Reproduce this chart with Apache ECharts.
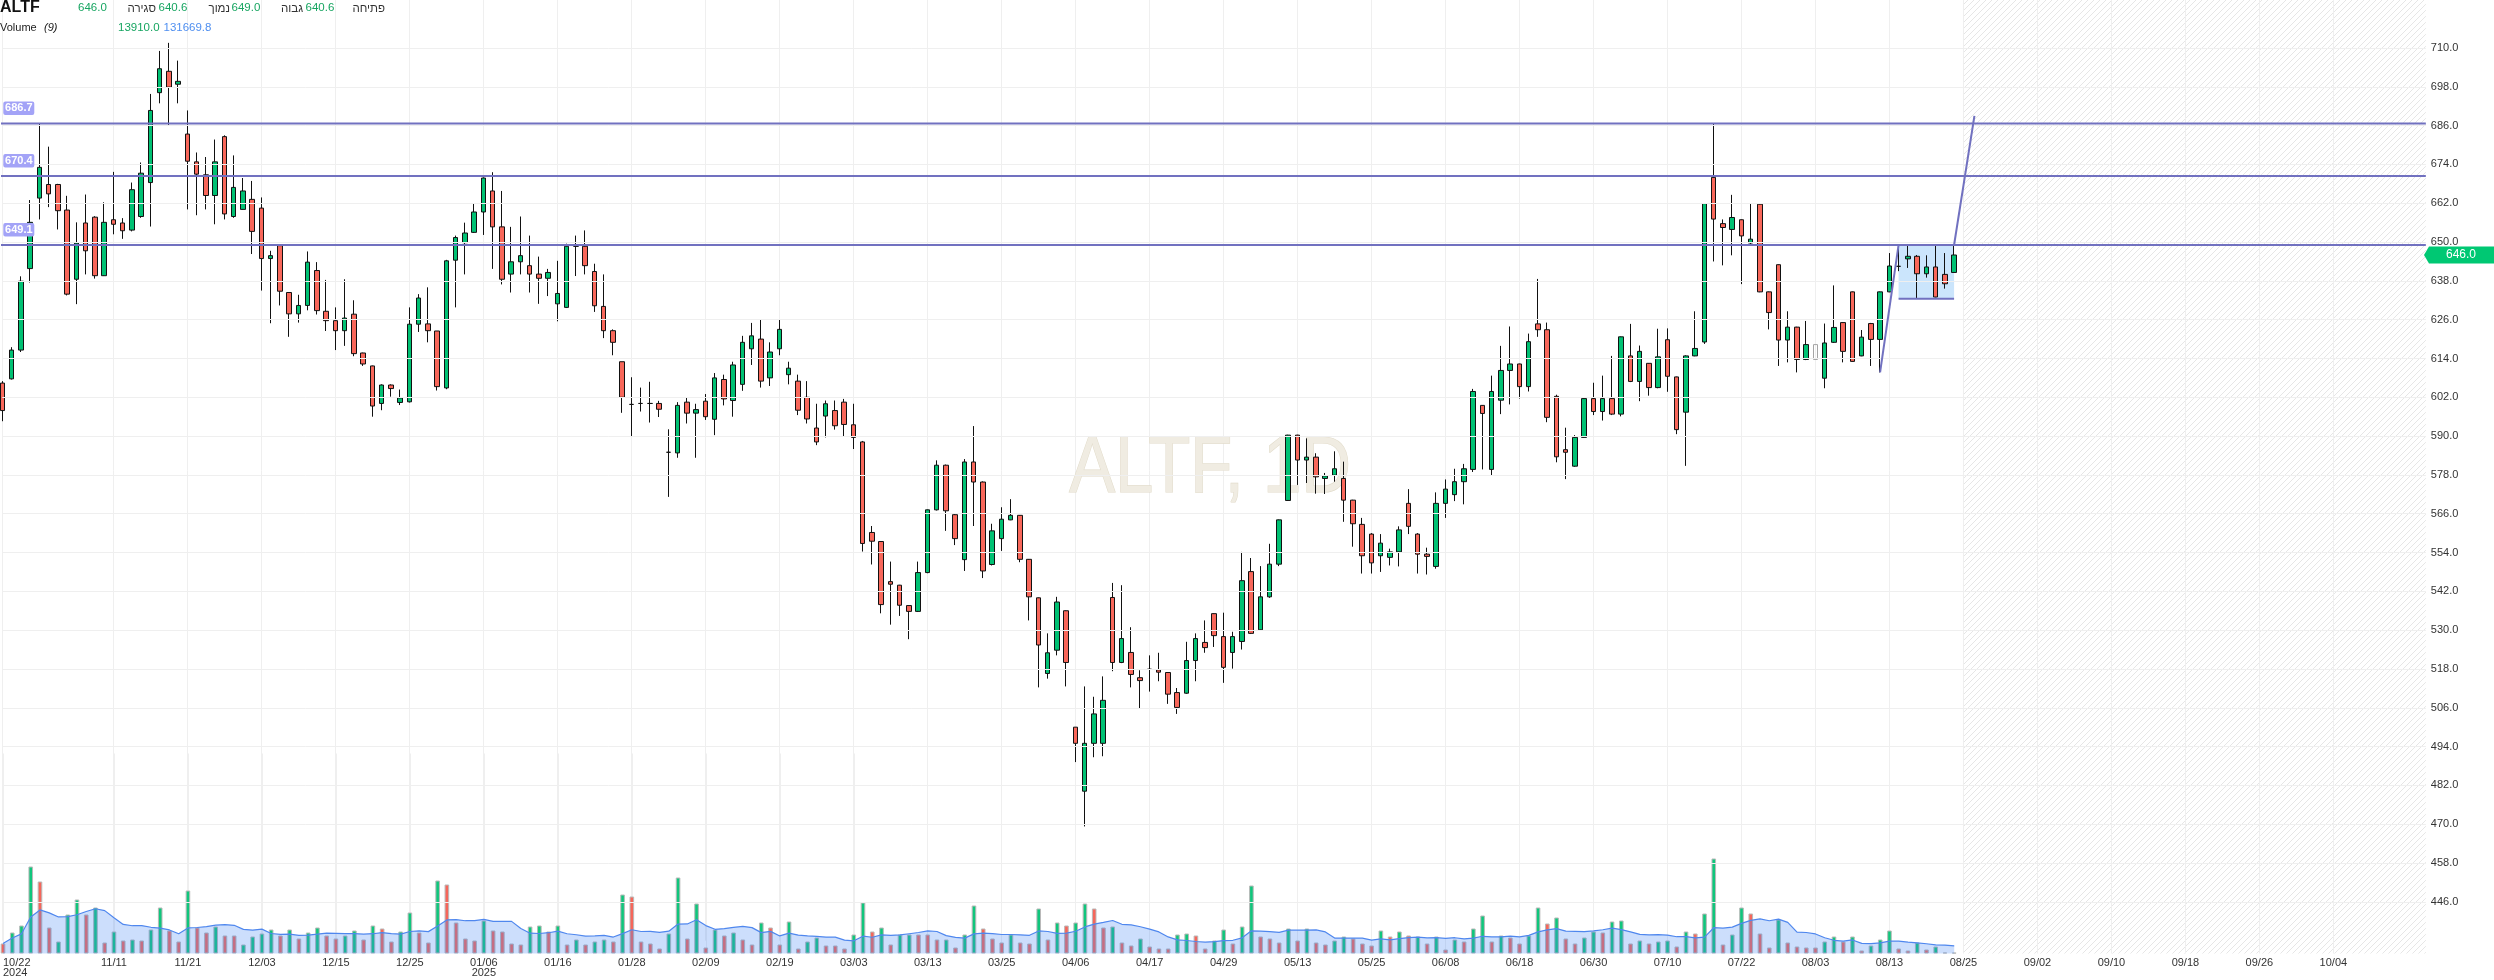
<!DOCTYPE html>
<html><head><meta charset="utf-8">
<script src="https://cdn.jsdelivr.net/npm/echarts@6/dist/echarts.min.js"></script>
<style>html,body{margin:0;padding:0;background:#fff;overflow:hidden}#c{width:2494px;height:980px}</style>
</head><body><div id="c"></div>
<script>
// ---------- DATA ----------
// one row per trading day: [open, high, low, close]
const OHLC = [
[606.4,607.0,594.6,597.9],[607.7,617.5,607.5,616.6],[616.6,639.4,616.0,637.9],[641.8,663.0,637.5,656.1],[663.6,686.7,657.0,673.1],
[667.8,679.5,660.8,664.9],[667.8,668.0,653.9,659.7],[659.9,664.3,633.5,633.9],[638.5,656.1,630.8,649.7],[655.9,664.7,640.0,647.3],
[657.7,658.0,638.7,639.6],[639.6,662.3,639.5,656.1],[656.9,671.7,652.4,655.5],[655.9,657.4,651.0,653.5],[653.7,668.4,653.3,666.2],
[657.9,674.6,657.5,671.3],[668.4,695.8,654.8,690.7],[696.2,709.1,692.9,703.6],[702.8,711.6,686.0,697.9],[698.8,706.1,692.9,699.7],
[683.4,690.7,660.1,675.0],[674.8,677.7,658.3,671.0],[670.8,676.3,660.1,664.4],[664.4,681.7,655.5,674.8],[682.6,683.0,657.0,658.7],
[657.9,676.8,657.5,666.9],[660.1,669.8,660.0,665.8],[663.2,668.9,646.3,653.3],[660.5,663.8,635.0,644.9],[644.9,647.3,624.9,645.8],
[648.9,649.0,630.4,634.8],[634.4,634.5,620.7,627.8],[627.8,633.7,625.1,630.4],[630.4,647.1,628.9,643.8],[641.2,643.8,627.6,628.8],
[628.6,638.3,622.5,625.7],[625.7,629.8,616.6,622.6],[622.6,638.5,617.9,626.5],[627.7,632.0,614.7,615.5],[615.7,615.8,611.7,612.3],
[611.7,611.8,596.0,599.3],[600.1,606.0,598.0,605.8],[605.8,606.0,602.2,604.7],[600.4,604.4,599.6,601.8],[600.6,629.8,600.4,624.6],
[624.6,633.9,622.2,632.7],[624.7,636.0,619.0,622.6],[622.5,622.5,604.1,605.3],[604.9,644.5,604.5,644.2],[644.4,652.0,629.8,651.4],
[649.8,656.0,640.0,652.8],[653.0,661.9,652.8,659.3],[659.3,670.0,652.2,669.8],[665.8,671.6,641.7,654.7],[654.7,665.8,636.9,638.5],
[640.1,654.7,634.4,643.9],[643.9,657.9,640.0,645.8],[642.7,652.0,634.4,640.1],[640.1,645.5,630.9,638.8],[638.8,641.7,633.3,640.6],
[630.9,644.2,625.5,634.1],[629.8,649.5,629.6,648.7],[648.7,652.0,639.5,648.7],[648.7,653.6,640.0,642.7],[640.9,643.3,628.4,630.3],
[630.1,640.0,620.3,622.6],[622.6,623.0,615.0,619.0],[613.0,613.0,597.2,602.0],[599.8,608.2,589.9,599.8],[600.1,605.0,597.6,600.1],
[600.1,606.8,594.2,600.1],[600.1,600.9,595.9,598.3],[585.0,592.1,571.2,585.0],[584.8,600.5,583.3,599.5],[600.5,602.0,593.9,597.1],
[597.1,600.0,583.3,598.2],[600.8,603.0,595.0,596.0],[595.2,609.5,590.3,608.0],[607.5,609.0,599.5,601.5],[601.0,613.0,596.0,612.0],
[606.0,621.0,604.0,619.0],[617.0,625.0,612.0,621.0],[620.0,626.0,605.0,607.0],[608.0,619.0,605.5,616.0],[617.0,626.0,615.0,623.0],
[609.0,613.0,606.0,611.0],[607.0,609.0,596.5,598.0],[602.0,607.0,593.9,595.3],[592.5,600.0,587.2,588.2],[596.2,601.0,589.6,600.0],
[597.9,601.0,592.0,593.2],[600.5,601.5,589.9,593.6],[593.5,600.0,586.0,589.6],[588.2,588.5,554.3,556.8],[560.2,562.2,550.3,557.5],
[557.4,557.5,535.2,537.9],[545.0,551.2,531.7,544.2],[543.9,544.0,534.4,537.7],[537.6,537.7,527.2,535.8],[535.8,551.2,535.6,547.8],
[547.8,567.3,547.6,567.2],[567.2,582.5,567.0,581.0],[581.0,581.2,560.7,566.9],[565.7,566.0,556.3,558.3],[551.8,582.9,548.3,582.0],
[582.0,593.1,562.2,575.8],[575.8,576.0,546.1,548.3],[550.3,562.9,550.0,560.7],[558.3,568.0,554.5,564.3],[564.1,570.5,564.0,565.5],
[565.5,565.6,551.0,551.9],[551.9,552.0,533.0,540.3],[540.0,540.1,512.3,525.4],[516.6,529.0,515.0,523.0],[523.8,540.3,522.2,538.7],
[536.0,536.1,512.6,520.0],[500.0,500.0,489.2,495.0],[480.2,512.6,469.3,495.0],[495.0,509.4,490.7,504.1],[495.0,515.7,491.0,508.3],
[540.1,544.6,517.3,520.0],[520.0,543.9,519.8,527.4],[523.1,530.9,512.3,516.3],[515.3,517.6,505.9,514.4],[517.9,522.2,511.0,517.9],
[517.7,523.0,514.2,517.0],[516.9,517.0,507.2,510.2],[510.7,512.1,504.1,506.1],[510.5,526.4,510.3,520.6],[520.6,529.0,514.2,527.4],
[526.2,533.0,523.0,524.6],[535.1,535.2,524.8,528.3],[528.0,535.4,513.7,518.5],[523.1,529.5,518.1,528.0],[526.5,554.2,524.0,545.3],
[548.1,552.3,528.8,529.0],[530.1,549.8,530.0,540.3],[540.3,556.7,540.0,550.4],[550.4,564.2,549.8,564.1],[570.1,590.4,570.0,590.3],
[590.3,590.4,574.9,582.6],[582.6,589.3,575.5,583.5],[583.5,584.7,572.2,577.4],[576.9,578.6,572.1,577.7],[577.9,585.3,575.9,579.9],
[576.9,582.1,563.5,570.2],[570.2,570.3,555.8,562.9],[562.7,564.7,547.5,553.0],[559.7,560.0,547.5,550.8],[553.0,559.7,548.0,556.9],
[552.5,555.2,550.0,554.2],[554.2,562.1,549.7,561.0],[569.2,573.6,559.7,562.1],[559.7,560.0,547.5,553.5],[553.5,555.5,547.2,552.8],
[549.7,572.6,549.0,569.2],[569.2,576.6,564.7,573.6],[571.9,579.9,569.9,575.9],[575.9,581.4,568.9,579.9],[579.7,604.6,578.9,603.8],
[599.5,599.6,579.7,597.0],[579.7,608.7,577.9,603.8],[601.1,617.9,596.8,610.3],[610.3,623.9,599.8,612.3],[612.3,612.4,601.6,605.3],
[605.3,621.7,603.8,619.2],[624.7,638.6,620.7,622.9],[622.9,625.1,594.3,595.8],[602.3,602.8,581.9,583.6],[585.8,592.6,576.7,585.0],
[580.7,590.3,580.5,589.6],[589.6,601.7,589.5,601.6],[601.6,606.5,596.5,597.6],[597.6,608.7,594.8,601.6],[601.6,614.8,596.5,596.8],
[596.8,620.8,596.1,620.7],[614.8,624.7,606.7,606.9],[606.9,618.0,600.8,616.2],[612.5,612.6,602.5,605.0],[605.0,623.2,604.8,614.5],
[619.8,623.3,603.7,608.5],[608.3,608.4,590.6,592.0],[597.4,615.0,580.8,614.8],[614.8,628.6,614.7,617.1],[619.1,662.0,618.5,661.9],
[670.0,686.7,644.0,657.1],[655.7,657.0,642.8,654.5],[653.9,664.6,645.9,657.6],[656.9,657.0,637.0,651.9],[649.7,662.0,649.3,650.9],
[661.7,661.8,634.5,634.6],[634.6,634.7,623.0,628.2],[643.0,643.1,611.7,619.7],[619.7,628.6,612.8,623.7],[623.7,623.8,609.7,613.7],
[613.7,625.6,613.5,618.3],[613.7,618.3,613.7,618.3],[607.9,624.8,604.8,618.8],[619.0,636.6,618.8,623.6],[625.1,625.2,612.8,616.2],
[634.6,634.7,613.0,613.1],[614.8,622.8,614.7,620.6],[624.8,625.0,611.7,619.9],[619.9,634.7,609.7,634.6],[634.6,646.6,634.5,642.6],
[642.5,649.0,641.0,642.5],[644.8,649.0,642.0,645.6],[645.6,646.0,632.5,640.2],[640.2,645.9,639.0,642.3],[642.3,649.0,632.9,633.0],
[640.0,646.6,635.6,637.1],[640.6,649.0,640.6,646.0]
];
const HOLLOW_DAYS = [196];

// volume, thousands of shares
const VOLUME_K = [
170,357,476,1479,1224,442,204,663,918,663,782,187,374,221,238,221,408,782,391,204,1071,442,357,459,306,306,153,289,340,408,306,408,255,357,442,306,255,
306,391,238,476,425,204,374,697,357,187,1241,1173,527,255,221,561,391,374,170,153,459,476,374,476,153,238,153,204,238,204,1003,969,204,170,85,
340,1292,255,850,102,408,306,357,238,153,527,442,153,544,85,204,272,136,136,85,323,867,374,442,153,323,323,323,323,238,238,102,323,816,425,255,
187,323,187,170,765,238,527,476,527,850,765,442,459,187,136,255,119,85,85,323,340,306,85,221,408,170,459,1156,289,255,187,425,221,425,187,153,221,
289,255,170,136,391,289,374,306,289,170,289,68,238,204,425,646,204,306,272,170,306,782,510,612,255,170,272,374,357,544,561,170,221,170,204,221,
119,374,340,680,1615,153,323,782,680,340,102,578,187,119,102,102,204,289,204,289,51,136,238,391,85,51,187,68,119,17,13.91
];
// volume bar colour per day: g = green, r = red
const VOLUME_DIR = (
'rgggrrgggrgrgrgrggrrgrrgrrggggrgrggrr' +
'ggrgrrggrrgrrrrgrrrrggrgrgrggrgrrrr' +
'ggrgrgrgrrgrrgrggrrrggrgrggrrrgrggrr' +
'rgrrgrgrggrrgrrgrrrggrrggrggrrrgrgrrg' +
'grrrgrgrgrgrgrggrgrrggrgrrggrggrgrgg' +
'rgrggrggrrrgrrrrggrgrgggrrgrgrg').split('');

const FIRST_LABEL = '10/22\n2024';
const TICK_LABELS = ['11/11','11/21','12/03','12/15','12/25','01/06\n2025','01/16','01/28','02/09','02/19','03/03','03/13','03/25',
  '04/06','04/17','04/29','05/13','05/25','06/08','06/18','06/30','07/10','07/22','08/03','08/13','08/25','09/02','09/10','09/18','09/26','10/04'];
const TICK_FIRST_INDEX = 12, TICK_EVERY = 8, SLOT_COUNT = 263;
const Y_TICKS = [446,458,470,482,494,506,518,530,542,554,566,578,590,602,614,626,638,650,662,674,686,698,710];
const LEVELS = [686.7, 670.4, 649.1];
const TREND_IN = [[203, 609.7], [205, 649.1]];
const TREND_OUT = [[211, 649.1], [213.2, 689.0]];
const BOX_X = [205, 211], BOX_Y = [632.5, 649.1];
const FUTURE_FROM = 212;
const LAST_CLOSE = 646.0;

// ---------- BUILD ----------
const CATS = Array.from({length: SLOT_COUNT}, () => '');
CATS[0] = FIRST_LABEL;
TICK_LABELS.forEach((t, k) => { CATS[TICK_FIRST_INDEX + k * TICK_EVERY] = t; });

const UP = '#00c173', DOWN = '#f8675a';
const VUP = '#10c67c', VDOWN = '#f6665a';
const LINE_C = '#7171c0';
const FONT = '"Liberation Sans", Arial, sans-serif';

const candleData = OHLC.map((r, i) => {
  const v = [r[0], r[3], r[2], r[1]];
  if (HOLLOW_DAYS.includes(i)) {
    return {value: v, itemStyle: {color: 'rgba(0,0,0,0)', color0: 'rgba(0,0,0,0)', borderColor: '#a5a5a5', borderColor0: '#a5a5a5'}};
  }
  return v;
});
const volData = VOLUME_K.map((v, i) => ({value: v, itemStyle: {color: VOLUME_DIR[i] === 'g' ? VUP : VDOWN}}));
const volMA = VOLUME_K.map((v, i) => {
  const s = VOLUME_K.slice(Math.max(0, i - 8), i + 1);
  return s.reduce((a, b) => a + b, 0) / s.length;
});

const GL = 2.33, GW = 9.25 * (SLOT_COUNT - 1);
const isTick = (idx, val) => val !== '';

const chart = echarts.init(document.getElementById('c'), null, {renderer: 'canvas'});
const option = {
  animation: false,
  backgroundColor: '#fff',
  textStyle: {fontFamily: FONT},
  grid: [
    {left: GL, width: GW, top: 0, height: 940.6},
    {left: GL, width: GW, top: 753.5, height: 200}
  ],
  xAxis: [
    {type: 'category', gridIndex: 0, data: CATS, boundaryGap: false,
      axisLine: {show: false}, axisTick: {show: false}, axisLabel: {show: false},
      splitLine: {show: true, interval: isTick, lineStyle: {color: '#efefef', width: 1}}},
    {type: 'value', gridIndex: 0, min: 0, max: SLOT_COUNT - 1, show: false},
    {type: 'category', gridIndex: 1, data: CATS, boundaryGap: false,
      axisLine: {show: false}, axisTick: {show: false},
      axisLabel: {interval: isTick, color: '#333', fontSize: 11, lineHeight: 10, margin: 4, alignMinLabel: 'left', fontFamily: FONT},
      splitLine: {show: true, interval: isTick, lineStyle: {color: '#efefef', width: 1}}}
  ],
  yAxis: [
    {type: 'value', gridIndex: 0, position: 'right', min: 434, max: 724.85, interval: 12,
      axisLine: {show: false}, axisTick: {show: false}, splitLine: {show: false},
      axisLabel: {margin: 5, color: '#333', fontSize: 11, fontFamily: FONT,
        formatter: v => Y_TICKS.some(t => Math.abs(t - v) < 1e-6) ? v.toFixed(1) : ''}},
    {type: 'value', gridIndex: 1, min: 0, max: 3400, show: false}
  ],
  series: [
    {type: 'line', xAxisIndex: 1, yAxisIndex: 0, data: [[0, Y_TICKS[0]]], symbol: 'none', silent: true, z: 1,
      lineStyle: {opacity: 0},
      markLine: {silent: true, symbol: ['none', 'none'], label: {show: false}, animation: false,
        lineStyle: {color: '#efefef', width: 1, type: 'solid'},
        data: Y_TICKS.map(v => ({yAxis: v}))}},
    {type: 'bar', xAxisIndex: 2, yAxisIndex: 1, data: volData, barWidth: 4.6, clip: false, z: 2,
      itemStyle: {borderColor: '#b9b9b9', borderWidth: 1}},
    {type: 'line', xAxisIndex: 2, yAxisIndex: 1, data: volMA, symbol: 'none', z: 3, silent: true,
      lineStyle: {color: '#4f87ee', width: 1.2}, areaStyle: {color: 'rgba(66,133,244,0.39)'}},
    {type: 'candlestick', xAxisIndex: 0, yAxisIndex: 0, data: candleData, barWidth: 5, clip: false, z: 4,
      itemStyle: {color: UP, color0: DOWN, borderColor: '#111', borderColor0: '#111', borderColorDoji: '#111', borderWidth: 1}},
    ...LEVELS.map(L => ({type: 'line', xAxisIndex: 1, yAxisIndex: 0, data: [[-0.26, L], [SLOT_COUNT - 1, L]],
      symbol: 'none', clip: false, silent: true, z: 6, lineStyle: {color: LINE_C, width: 2}})),
    {type: 'line', xAxisIndex: 1, yAxisIndex: 0, data: TREND_IN, symbol: 'none', silent: true, z: 6,
      lineStyle: {color: LINE_C, width: 2}},
    {type: 'line', xAxisIndex: 1, yAxisIndex: 0, data: TREND_OUT, symbol: 'none', silent: true, z: 6, clip: false,
      lineStyle: {color: LINE_C, width: 2}},
    {type: 'line', xAxisIndex: 1, yAxisIndex: 0, data: [[BOX_X[0], BOX_Y[0]], [BOX_X[1], BOX_Y[0]]], symbol: 'none', silent: true, z: 6,
      lineStyle: {color: LINE_C, width: 2},
      markArea: {silent: true, itemStyle: {color: 'rgba(70,160,245,0.28)'},
        data: [[{coord: [BOX_X[0], BOX_Y[1]]}, {coord: [BOX_X[1], BOX_Y[0]]}]]}}
  ]
};
chart.setOption(option);

// ---------- DECORATIONS ----------
const pc = document.createElement('canvas');
pc.width = 6; pc.height = 6;
const g = pc.getContext('2d');
g.strokeStyle = '#e6e6e6'; g.lineWidth = 1;
g.beginPath(); g.moveTo(0, 6); g.lineTo(6, 0); g.moveTo(-1, 1); g.lineTo(1, -1); g.moveTo(5, 7); g.lineTo(7, 5); g.stroke();

const px = v => chart.convertToPixel({xAxisIndex: 1}, v);
const py = (yi, v) => chart.convertToPixel({yAxisIndex: yi}, v);
const hx0 = px(FUTURE_FROM), hx1 = px(SLOT_COUNT - 1), hBottom = py(1, 0);

function txt(text, x, y, font, fill, align, z) {
  return {type: 'text', x: x, y: y, z: z || 20, silent: true,
    style: {text: text, x: 0, y: 0, font: font, fill: fill, align: align || 'left', textAlign: align || 'left',
      verticalAlign: 'middle', textVerticalAlign: 'middle'}};
}
const FN = '11.5px ' + FONT, F11 = '11px ' + FONT;
const GREEN_T = '#17a561', DARK_T = '#333';
const elements = [
  {type: 'rect', z: -1, silent: true, shape: {x: hx0, y: 0, width: hx1 - hx0, height: hBottom},
    style: {fill: {image: pc, repeat: 'repeat'}}},
  {type: 'text', x: 1210, y: 470, z: 0, silent: true, scaleX: 0.86,
    style: {text: 'ALTF, 1D', x: 0, y: 0, font: '80px ' + FONT, fill: '#f0ece2', stroke: '#e2dccb', lineWidth: 1.2,
      align: 'center', textAlign: 'center', verticalAlign: 'middle', textVerticalAlign: 'middle'}},
  txt('ALTF', 0, 7.6, 'bold 16px ' + FONT, '#111'),
  txt('646.0', 78, 8, FN, GREEN_T),
  txt('סגירה', 156, 8.5, FN, DARK_T, 'right'),
  txt('640.6', 158.5, 8, FN, GREEN_T),
  txt('נמוך', 230, 8.5, FN, DARK_T, 'right'),
  txt('649.0', 231.5, 8, FN, GREEN_T),
  txt('גבוה', 303, 8.5, FN, DARK_T, 'right'),
  txt('640.6', 305.5, 8, FN, GREEN_T),
  txt('פתיחה', 385, 8.5, FN, DARK_T, 'right'),
  txt('Volume', 0, 28, F11, '#222'),
  txt('(9)', 44, 28, 'italic ' + F11, '#222'),
  txt('13910.0', 118, 28, FN, GREEN_T),
  txt('131669.8', 163.5, 28, FN, '#4f8ff0')
];
LEVELS.forEach(L => {
  const y = py(0, L);
  elements.push({type: 'rect', z: 20, silent: true, shape: {x: 3.3, y: y - 22, width: 31, height: 13.5, r: 2},
    style: {fill: '#a3a3f7'}});
  elements.push(txt(L.toFixed(1), 18.8, y - 15.2, 'bold 11px ' + FONT, '#fff', 'center'));
});
const ty = py(0, LAST_CLOSE);
elements.push({type: 'polygon', z: 20, silent: true,
  shape: {points: [[2424, ty], [2429, ty - 8.5], [2494, ty - 8.5], [2494, ty + 8.5], [2429, ty + 8.5]]},
  style: {fill: '#00c873'}});
elements.push(txt(LAST_CLOSE.toFixed(1), 2461, ty, '12px ' + FONT, '#fff', 'center'));

chart.setOption({graphic: {elements: elements}});
</script>
</body></html>
